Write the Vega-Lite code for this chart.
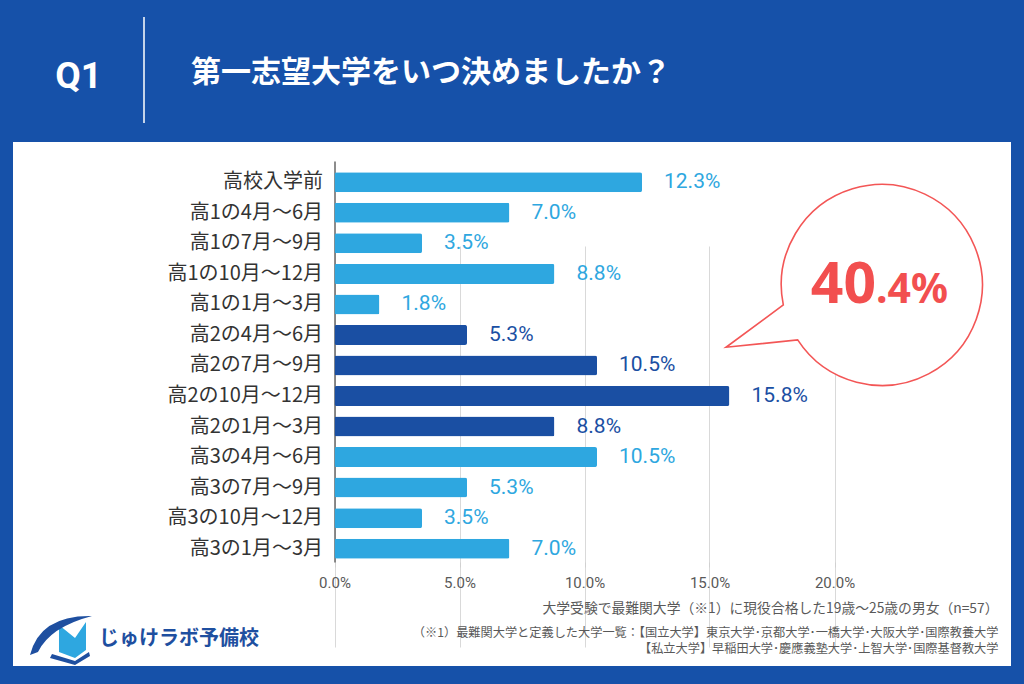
{
  "$schema": "https://vega.github.io/schema/vega-lite/v6.json",
  "width": 998,
  "height": 524,
  "autosize": {"type": "none"},
  "padding": {"left": 13, "top": 142, "right": 13, "bottom": 18},
  "background": "#1651a9",
  "config": {
    "view": {"fill": "#ffffff", "stroke": null},
    "font": "Noto Sans CJK JP"
  },
  "data": {
    "values": [
      {"period": "高校入学前", "grade": "入学前", "v": 0.123},
      {"period": "高1の4月～6月", "grade": "高1", "v": 0.070},
      {"period": "高1の7月～9月", "grade": "高1", "v": 0.035},
      {"period": "高1の10月～12月", "grade": "高1", "v": 0.088},
      {"period": "高1の1月～3月", "grade": "高1", "v": 0.018},
      {"period": "高2の4月～6月", "grade": "高2", "v": 0.053},
      {"period": "高2の7月～9月", "grade": "高2", "v": 0.105},
      {"period": "高2の10月～12月", "grade": "高2", "v": 0.158},
      {"period": "高2の1月～3月", "grade": "高2", "v": 0.088},
      {"period": "高3の4月～6月", "grade": "高3", "v": 0.105},
      {"period": "高3の7月～9月", "grade": "高3", "v": 0.053},
      {"period": "高3の10月～12月", "grade": "高3", "v": 0.035},
      {"period": "高3の1月～3月", "grade": "高3", "v": 0.070}
    ]
  },
  "encoding": {
    "y": {
      "field": "period",
      "type": "nominal",
      "sort": null,
      "scale": {
        "domain": ["高校入学前", "高1の4月～6月", "高1の7月～9月", "高1の10月～12月", "高1の1月～3月", "高2の4月～6月", "高2の7月～9月", "高2の10月～12月", "高2の1月～3月", "高3の4月～6月", "高3の7月～9月", "高3の10月～12月", "高3の1月～3月"],
        "range": [19, 420],
        "paddingInner": 0.345,
        "paddingOuter": 0.24,
        "align": 0.772
      },
      "axis": {
        "title": "Q1",
        "titleAngle": 0,
        "titleX": -256.5,
        "titleY": -55,
        "titleAlign": "center",
        "titleBaseline": "alphabetic",
        "titleFont": "Roboto",
        "titleFontSize": 37,
        "titleFontWeight": "bold",
        "titleColor": "#ffffff",
        "offset": -321.5,
        "ticks": false,
        "tickSize": 0,
        "grid": false,
        "labelFont": "Noto Sans CJK JP",
        "labelFontSize": 20,
        "labelColor": "#333333",
        "labelPadding": 12,
        "labelLimit": 300,
        "domainColor": "#666666",
        "domainWidth": 1.5
      }
    }
  },
  "layer": [
    {
      "mark": {"type": "bar", "cornerRadius": 2},
      "encoding": {
        "x": {
          "field": "v",
          "type": "quantitative",
          "scale": {"domain": [0, 0.2], "range": [321.5, 821.5], "nice": false},
          "axis": {
            "values": [0, 0.05, 0.1, 0.15, 0.2],
            "format": ".1%",
            "grid": true,
            "gridColor": "#d9d9d9",
            "domain": false,
            "tickColor": "#d0d0d0",
            "tickSize": 5,
            "labelFlush": false,
            "labelFont": "Roboto",
            "labelFontSize": 15,
            "labelColor": "#595959",
            "labelPadding": 8,
            "offset": -104,
            "title": null
          }
        },
        "color": {
          "field": "grade",
          "type": "nominal",
          "scale": {"domain": ["入学前", "高1", "高2", "高3"], "range": ["#2ea7e0", "#2ea7e0", "#1a4fa3", "#2ea7e0"]},
          "legend": null
        }
      }
    },
    {
      "mark": {"type": "text", "align": "left", "baseline": "middle", "dx": 22, "fontSize": 21, "font": "Roboto"},
      "encoding": {
        "x": {"field": "v", "type": "quantitative"},
        "text": {"field": "v", "type": "quantitative", "format": ".1%"},
        "color": {"field": "grade", "type": "nominal", "legend": null}
      }
    },
    {
      "data": {"values": [{}]},
      "mark": {"type": "point", "shape": "M-0.982,0.309 A1,1,0,1,1,-0.839,0.657 L-1.552,0.73 Z", "size": 40401, "filled": true, "fill": "#ffffff", "stroke": "#f35656", "strokeWidth": 1.6, "opacity": 1},
      "encoding": {
        "x": {"datum": 0.219, "type": "quantitative"},
        "y": {"datum": "高1の10月～12月", "type": "nominal"}
      }
    },
    {
      "data": {"values": [{}]},
      "mark": {"type": "text", "text": "40", "align": "right", "baseline": "alphabetic", "dy": 29.4, "fontSize": 57, "fontWeight": "bold", "font": "Noto Sans", "color": "#f24f4f"},
      "encoding": {
        "x": {"datum": 0.2166, "type": "quantitative"},
        "y": {"datum": "高1の10月～12月", "type": "nominal"}
      }
    },
    {
      "data": {"values": [{}]},
      "mark": {"type": "text", "text": ".4%", "align": "left", "baseline": "alphabetic", "dy": 29.4, "fontSize": 41, "fontWeight": "bold", "font": "Noto Sans", "color": "#f24f4f"},
      "encoding": {
        "x": {"datum": 0.2166, "type": "quantitative"},
        "y": {"datum": "高1の10月～12月", "type": "nominal"}
      }
    },
    {
      "data": {"values": [{}]},
      "mark": {"type": "text", "text": "第一志望大学をいつ決めましたか？", "align": "left", "baseline": "alphabetic", "dy": -100.3, "fontSize": 30, "fontWeight": "bold", "color": "#ffffff"},
      "encoding": {
        "x": {"datum": -0.0574, "type": "quantitative"},
        "y": {"datum": "高校入学前", "type": "nominal"}
      }
    },
    {
      "data": {"values": [{}]},
      "mark": {"type": "text", "text": "大学受験で最難関大学（※1）に現役合格した19歳～25歳の男女（n=57）", "align": "right", "baseline": "middle", "dy": 60.3, "fontSize": 13.8, "color": "#595959"},
      "encoding": {
        "x": {"datum": 0.2656, "type": "quantitative"},
        "y": {"datum": "高3の1月～3月", "type": "nominal"}
      }
    },
    {
      "data": {"values": [{}]},
      "mark": {"type": "text", "text": "（※1）最難関大学と定義した大学一覧：【国立大学】東京大学･京都大学･一橋大学･大阪大学･国際教養大学", "align": "right", "baseline": "middle", "dy": 84, "fontSize": 12.2, "color": "#595959"},
      "encoding": {
        "x": {"datum": 0.2656, "type": "quantitative"},
        "y": {"datum": "高3の1月～3月", "type": "nominal"}
      }
    },
    {
      "data": {"values": [{}]},
      "mark": {"type": "text", "text": "【私立大学】早稲田大学･慶應義塾大学･上智大学･国際基督教大学", "align": "right", "baseline": "middle", "dy": 100.5, "fontSize": 12.2, "color": "#595959"},
      "encoding": {
        "x": {"datum": 0.2656, "type": "quantitative"},
        "y": {"datum": "高3の1月～3月", "type": "nominal"}
      }
    },
    {
      "data": {"values": [{}]},
      "mark": {"type": "text", "text": "じゅけラボ予備校", "align": "left", "baseline": "middle", "dy": 90.3, "fontSize": 20, "fontWeight": "bold", "color": "#1e4fa0"},
      "encoding": {
        "x": {"datum": -0.0942, "type": "quantitative"},
        "y": {"datum": "高3の1月～3月", "type": "nominal"}
      }
    },
    {
      "data": {"values": [{}]},
      "mark": {"type": "point", "shape": "M-0.167,2.543 L0.367,2.977 L0.733,2.443 L0.733,3.377 L0.367,3.643 L-0.167,3.443 Z", "size": 3600, "filled": true, "fill": "#2ea7e0", "strokeWidth": 0, "opacity": 1},
      "encoding": {
        "x": {"datum": -0.1082, "type": "quantitative"},
        "y": {"datum": "高3の1月～3月", "type": "nominal"}
      }
    },
    {
      "data": {"values": [{}]},
      "mark": {"type": "point", "shape": "M-1.133,3.543 Q-0.8,2.21 0.933,2.243 Q-0.467,2.61 -0.867,3.443 Z M-0.467,3.643 L0.367,3.877 L0.867,3.577 L0.833,3.443 L0.367,3.743 L-0.4,3.51 Z", "size": 3600, "filled": true, "fill": "#1e4fa0", "strokeWidth": 0, "opacity": 1},
      "encoding": {
        "x": {"datum": -0.1082, "type": "quantitative"},
        "y": {"datum": "高3の1月～3月", "type": "nominal"}
      }
    },
    {
      "data": {"values": [{}]},
      "mark": {"type": "point", "shape": "M0,-3.119 L0,-1.119", "size": 11236, "filled": false, "stroke": "#ffffff", "strokeWidth": 1.5, "opacity": 1},
      "encoding": {
        "x": {"datum": -0.0762, "type": "quantitative"},
        "y": {"datum": "高校入学前", "type": "nominal"}
      }
    }
  ]
}
